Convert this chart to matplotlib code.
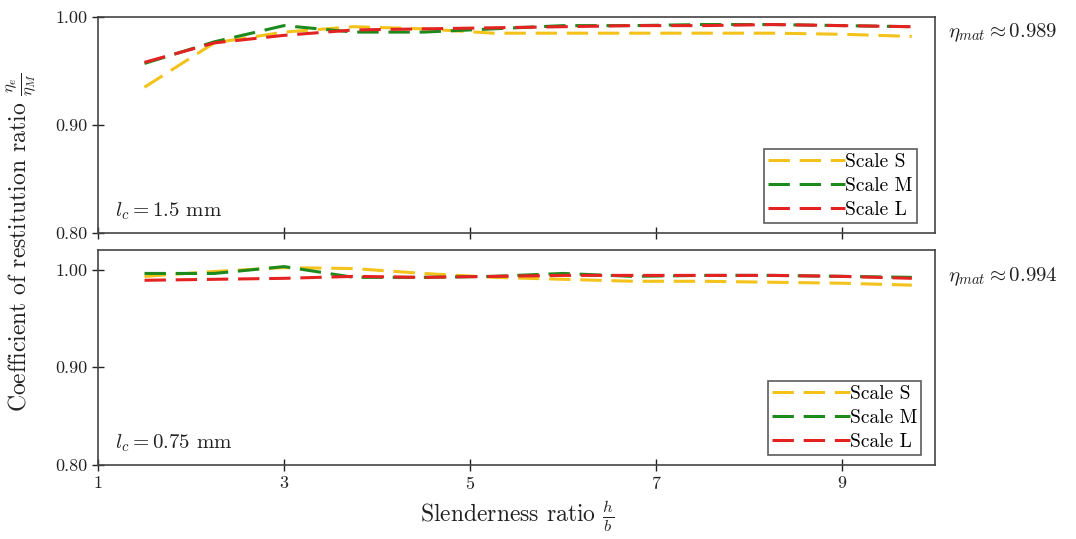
import matplotlib
matplotlib.use("Agg")
import matplotlib.pyplot as plt

plt.rcParams["font.family"] = "serif"
plt.rcParams["font.serif"] = ["cmr10", "DejaVu Serif"]
plt.rcParams["mathtext.fontset"] = "cm"
plt.rcParams["axes.unicode_minus"] = False
plt.rcParams["axes.formatter.use_mathtext"] = True

# Slenderness ratios h/b
slenderness = [1.5, 2.25, 3.0, 3.75, 4.5, 5.25, 6.0, 6.75, 7.5, 8.25, 9.0, 9.75]

# l_c = 1.5 mm
top_S = [0.935, 0.976, 0.986, 0.991, 0.989, 0.985, 0.985, 0.985, 0.985, 0.985, 0.984, 0.982]
top_M = [0.957, 0.977, 0.992, 0.986, 0.986, 0.989, 0.992, 0.992, 0.993, 0.993, 0.992, 0.991]
top_L = [0.958, 0.976, 0.983, 0.988, 0.989, 0.990, 0.991, 0.992, 0.992, 0.993, 0.992, 0.991]

# l_c = 0.75 mm
bot_S = [0.993, 0.998, 1.002, 1.001, 0.996, 0.992, 0.990, 0.988, 0.988, 0.987, 0.986, 0.984]
bot_M = [0.996, 0.996, 1.003, 0.992, 0.992, 0.993, 0.996, 0.993, 0.994, 0.994, 0.993, 0.992]
bot_L = [0.989, 0.990, 0.991, 0.993, 0.992, 0.993, 0.994, 0.994, 0.994, 0.994, 0.993, 0.991]

series_labels = ["Scale S", "Scale M", "Scale L"]
colors = ["#F3C21B", "#1E8A1E", "#E52222"]

panel_labels = [r"$l_c = 1.5$ mm", r"$l_c = 0.75$ mm"]
eta_mat = [r"$\eta_{mat} \approx 0.989$", r"$\eta_{mat} \approx 0.994$"]

x_ticks = [1, 3, 5, 7, 9]
y_ticks = [0.80, 0.90, 1.00]

fig = plt.figure(figsize=(10.76, 5.39), dpi=100)
ax_top = fig.add_axes([0.0911, 0.5677, 0.7779, 0.4008])
ax_bot = fig.add_axes([0.0911, 0.1373, 0.7779, 0.3989])

panels = [
    (ax_top, [top_S, top_M, top_L], (0.80, 1.00), 0.926, 0.985),
    (ax_bot, [bot_S, bot_M, bot_L], (0.80, 1.02), 0.874, 0.99),
]

for i, (ax, data, ylim, eta_y, leg_x) in enumerate(panels):
    for vals, lab, col in zip(data, series_labels, colors):
        ax.plot(slenderness, vals, color=col, lw=2.2, dashes=(7, 3.2), label=lab)
    ax.set_xlim(1, 10)
    ax.set_ylim(*ylim)
    ax.set_xticks(x_ticks)
    ax.set_yticks(y_ticks)
    ax.set_yticklabels([f"{v:.2f}" for v in y_ticks])
    ax.tick_params(direction="inout", length=8, width=1.0, labelsize=13, colors="#222222")
    for sp in ax.spines.values():
        sp.set_color("#444444")
        sp.set_linewidth(1.2)
    ax.text(0.02, 0.05, panel_labels[i], transform=ax.transAxes, fontsize=15,
            ha="left", va="bottom", color="#222222")
    ax.text(1.015, eta_y, eta_mat[i], transform=ax.transAxes,
            fontsize=15, ha="left", va="center", color="#222222")
    leg = ax.legend(loc="lower right", bbox_to_anchor=(leg_x, 0.02),
                    fontsize=14, frameon=True, fancybox=False, handlelength=4.0,
                    handletextpad=0.0, borderpad=0.2, labelspacing=0.32,
                    borderaxespad=0.3)
    leg.get_frame().set_edgecolor("#333333")
    leg.get_frame().set_linewidth(1.2)

ax_top.tick_params(labelbottom=False)
ax_bot.set_xlabel(r"Slenderness ratio $\frac{h}{b}$", fontsize=17, color="#222222",
                  labelpad=4)
fig.text(0.02, 0.55, r"Coefficient of restitution ratio $\frac{\eta_e}{\eta_M}$",
         rotation=90, fontsize=17, ha="center", va="center", color="#222222")

fig.savefig("out.png", dpi=100)
